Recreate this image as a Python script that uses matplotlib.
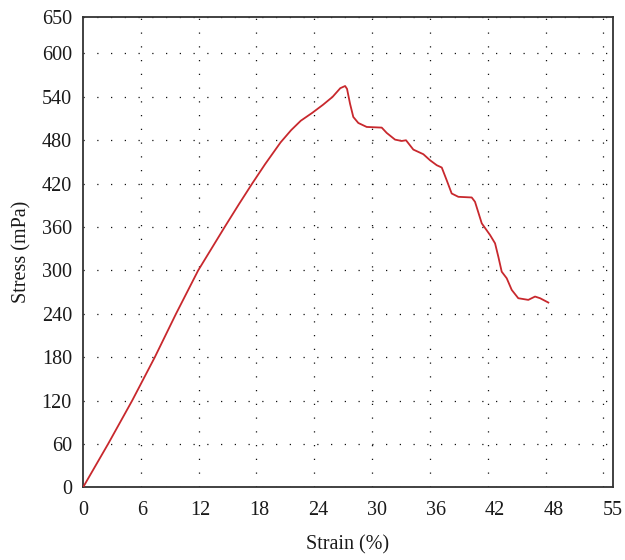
import matplotlib
matplotlib.use("Agg")
import matplotlib.pyplot as plt

strain = [0, 2.6, 5.1, 7.45, 9.65, 11.95, 14.7, 16.2, 17.55, 18.9, 20.5, 21.6,
          22.6, 23.8, 24.9, 25.9, 26.7, 27.2, 27.4, 27.71, 28.05, 28.57,
          29.44, 31.0, 31.52, 32.38, 33.07, 33.52, 34.28, 35.32, 36.01,
          36.71, 37.23, 37.74, 38.26, 38.95, 40.34, 40.68, 41.38, 42.24,
          42.76, 43.1, 43.45, 43.97, 44.49, 45.17, 46.21, 46.91, 47.43, 48.29]
stress = [0, 60, 120, 180, 240, 300, 360, 392, 420, 447, 477, 494,
          507, 518, 529, 540, 552, 555, 551, 530.6, 512.2, 503.9,
          498.4, 497.5, 490.1, 480.9, 479, 480, 467.1, 460.7, 452.4,
          445.5, 442.3, 424.8, 406.4, 401.8, 400.9, 394.9, 365.1, 349,
          337.5, 319, 298.3, 289.2, 273.1, 261.6, 259.3, 263.9, 261.6, 255.6]

# etiquetas del eje x (repartidas de forma uniforme, como en el original)
x_tick_labels = ["0", "6", "12", "18", "24", "30", "36", "42", "48", "55"]
x_grid = [0, 6, 12, 18, 24, 30, 36, 42, 48, 54]
y_ticks = [0, 60, 120, 180, 240, 300, 360, 420, 480, 540, 600, 650]
x_max = 55

plt.rcParams["font.family"] = ["Liberation Serif", "DejaVu Serif"]

fig = plt.figure(figsize=(6.25, 5.6), dpi=100)
ax = fig.add_axes([0.1328, 0.1296, 0.848, 0.8395])

ax.plot(strain, stress, color="#c8282d", linewidth=1.3, zorder=3)

ax.set_xlim(0, x_max)
ax.set_ylim(0, 650)
n = len(x_tick_labels) - 1
ax.set_xticks([x_max * k / n for k in range(n + 1)])
ax.set_xticklabels(x_tick_labels)
ax.set_xticks(x_grid, minor=True)
ax.set_yticks(y_ticks)

dots = dict(color="#111111", linestyle=(0, (1, 10)), linewidth=0.9)
ax.grid(False, axis="x", which="major")
ax.grid(True, axis="x", which="minor", **dots)
ax.grid(True, axis="y", which="major", **dots)

for s in ax.spines.values():
    s.set_linewidth(1.3)
    s.set_color("#333333")

ax.tick_params(which="both", length=0, labelsize=14.5, labelcolor="#1a1a1a")
ax.tick_params(axis="x", pad=10)
ax.tick_params(axis="y", pad=8)
ax.set_xlabel("Strain (%)", fontsize=14.5, labelpad=11, color="#1a1a1a")
ax.set_ylabel("Stress (mPa)", fontsize=14.5, labelpad=7, color="#1a1a1a")

fig.savefig("out.png", dpi=100)
